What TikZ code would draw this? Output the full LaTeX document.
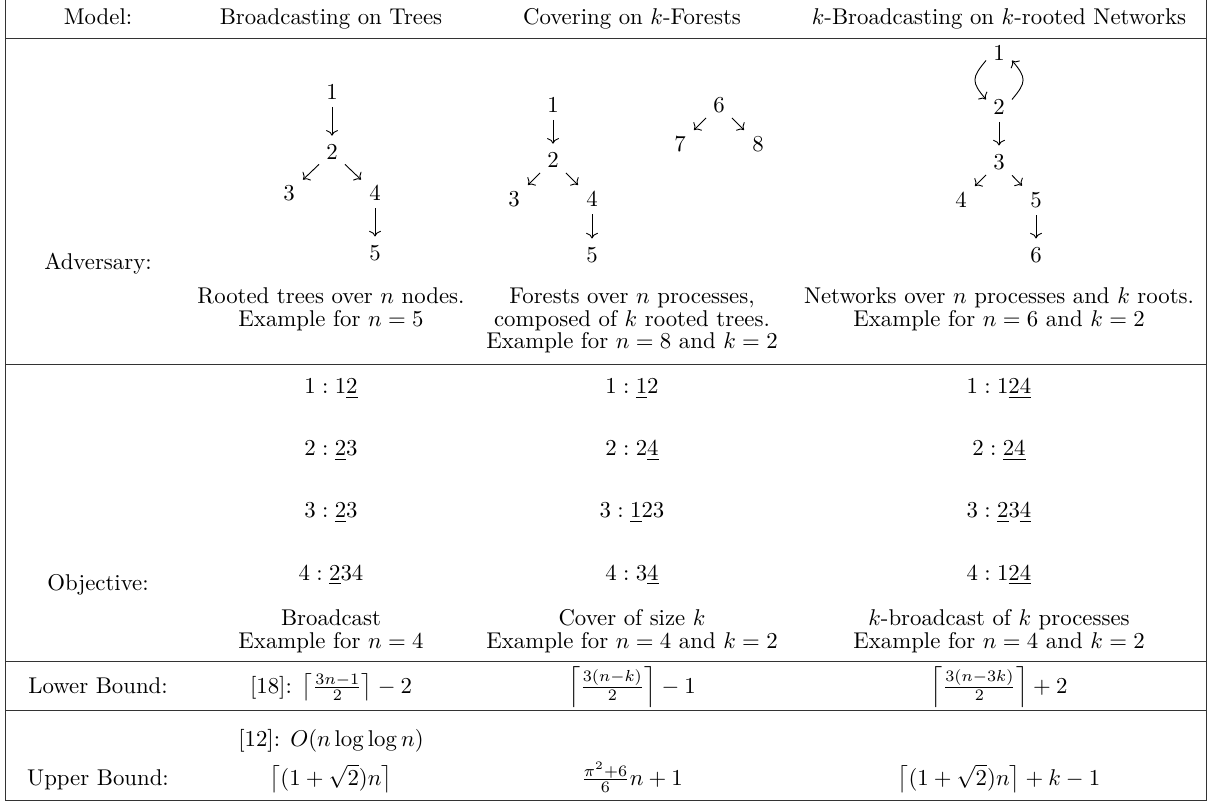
\documentclass[tikz,border=0pt]{standalone}
\usetikzlibrary{arrows.meta}
\begin{document}
\begin{tikzpicture}[x=0.4386pt, y=-0.4386pt,
  txt/.style={anchor=base, inner sep=0pt},
  num/.style={inner sep=3pt, anchor=center},
  arr/.style={-{Computer Modern Rightarrow}, shorten >=0.6pt},
  larr/.style={-{Computer Modern Rightarrow}},
  rule/.style={line width=0.4pt, draw=black!80}
]
\useasboundingbox (0,0) rectangle (1213,808);
% table rules
\draw[rule] (5,0) -- (5,800) -- (1206,800) -- (1206,0);
\draw[rule] (5,38) -- (1206,38);
\draw[rule] (5,364) -- (1206,364);
\draw[rule] (5,661) -- (1206,661);
\draw[rule] (5,710) -- (1206,710);
% header
\node[txt] (h1) at (98,24.5) {Model:};
\node[txt] (h2) at (331,24.5) {Broadcasting on Trees};
\node[txt] (h3) at (632,24.5) {Covering on $k$-Forests};
\node[txt] (h4) at (999,24.5) {$k$-Broadcasting on $k$-rooted Networks};
% tree 1
\node[num] (a1) at (332,92) {1};
\node[num] (a2) at (332,152) {2};
\node[num] (a3) at (289,193) {3};
\node[num] (a4) at (375,193) {4};
\node[num] (a5) at (375,253) {5};
\draw[arr] (a1) -- (a2);
\draw[arr] (a2) -- (a3);
\draw[arr] (a2) -- (a4);
\draw[arr] (a4) -- (a5);
% tree 2 + forest
\node[num] (b1) at (553,105) {1};
\node[num] (b2) at (553,160) {2};
\node[num] (b3) at (514,199) {3};
\node[num] (b4) at (592,199) {4};
\node[num] (b5) at (592,255) {5};
\node[num] (b6) at (719,105) {6};
\node[num] (b7) at (680,144) {7};
\node[num] (b8) at (758,144) {8};
\draw[arr] (b1) -- (b2);
\draw[arr] (b2) -- (b3);
\draw[arr] (b2) -- (b4);
\draw[arr] (b4) -- (b5);
\draw[arr] (b6) -- (b7);
\draw[arr] (b6) -- (b8);
% tree 3
\node[num] (c1) at (999,53) {1};
\node[num] (c2) at (999,107) {2};
\node[num] (c3) at (999,162) {3};
\node[num] (c4) at (961,200) {4};
\node[num] (c5) at (1036,200) {5};
\node[num] (c6) at (1036,255) {6};
\draw[larr] (c1.210) to[out=230, in=130, looseness=1.5] (c2.150);
\draw[larr] (c2.30) to[out=50, in=310, looseness=1.5] (c1.330);
\draw[arr] (c2) -- (c3);
\draw[arr] (c3) -- (c4);
\draw[arr] (c3) -- (c5);
\draw[arr] (c5) -- (c6);
% adversary row labels
\node[txt] (adv) at (98,270) {Adversary:};
\node[txt] (ac2a) at (331,304) {Rooted trees over $n$ nodes.};
\node[txt] (ac2b) at (331,326.5) {Example for $n=5$};
\node[txt] (ac3a) at (632,304) {Forests over $n$ processes,};
\node[txt] (ac3b) at (632,326.5) {composed of $k$ rooted trees.};
\node[txt] (ac3c) at (632,349) {Example for $n=8$ and $k=2$};
\node[txt] (ac4a) at (999,304) {Networks over $n$ processes and $k$ roots.};
\node[txt] (ac4b) at (999,326.5) {Example for $n=6$ and $k=2$};
% objective row
\node[txt] (o21) at (331,394) {$1:1\underline{2}$};
\node[txt] (o22) at (331,456) {$2:\underline{2}3$};
\node[txt] (o23) at (331,518) {$3:\underline{2}3$};
\node[txt] (o24) at (331,580) {$4:\underline{2}34$};
\node[txt] (o31) at (632,394) {$1:\underline{1}2$};
\node[txt] (o32) at (632,456) {$2:2\underline{4}$};
\node[txt] (o33) at (632,518) {$3:\underline{1}23$};
\node[txt] (o34) at (632,580) {$4:3\underline{4}$};
\node[txt] (o41) at (999,394) {$1:1\underline{24}$};
\node[txt] (o42) at (999,456) {$2:\underline{24}$};
\node[txt] (o43) at (999,518) {$3:\underline{2}3\underline{4}$};
\node[txt] (o44) at (999,580) {$4:1\underline{24}$};
\node[txt] (obj) at (98,590) {Objective:};
\node[txt] (oc2a) at (331,625.5) {Broadcast};
\node[txt] (oc2b) at (331,648) {Example for $n=4$};
\node[txt] (oc3a) at (632,625.5) {Cover of size $k$};
\node[txt] (oc3b) at (632,648) {Example for $n=4$ and $k=2$};
\node[txt] (oc4a) at (999,625.5) {$k$-broadcast of $k$ processes};
\node[txt] (oc4b) at (999,648) {Example for $n=4$ and $k=2$};
% lower bound
\node[txt] (lb1) at (98,693) {Lower Bound:};
\node[txt] (lb2) at (331,693) {[18]: $\left\lceil\frac{3n-1}{2}\right\rceil-2$};
\node[txt] (lb3) at (632,693) {$\left\lceil\frac{3(n-k)}{2}\right\rceil-1$};
\node[txt] (lb4) at (999,693) {$\left\lceil\frac{3(n-3k)}{2}\right\rceil+2$};
% upper bound
\node[txt] (ub0) at (331,746) {[12]: $O(n\log\log n)$};
\node[txt] (ub1) at (98,785) {Upper Bound:};
\node[txt] (ub2) at (331,785) {$\left\lceil(1+\sqrt{2})n\right\rceil$};
\node[txt] (ub3) at (632,785) {$\frac{\pi^2+6}{6}n+1$};
\node[txt] (ub4) at (999,785) {$\left\lceil(1+\sqrt{2})n\right\rceil+k-1$};
\end{tikzpicture}
\end{document}
